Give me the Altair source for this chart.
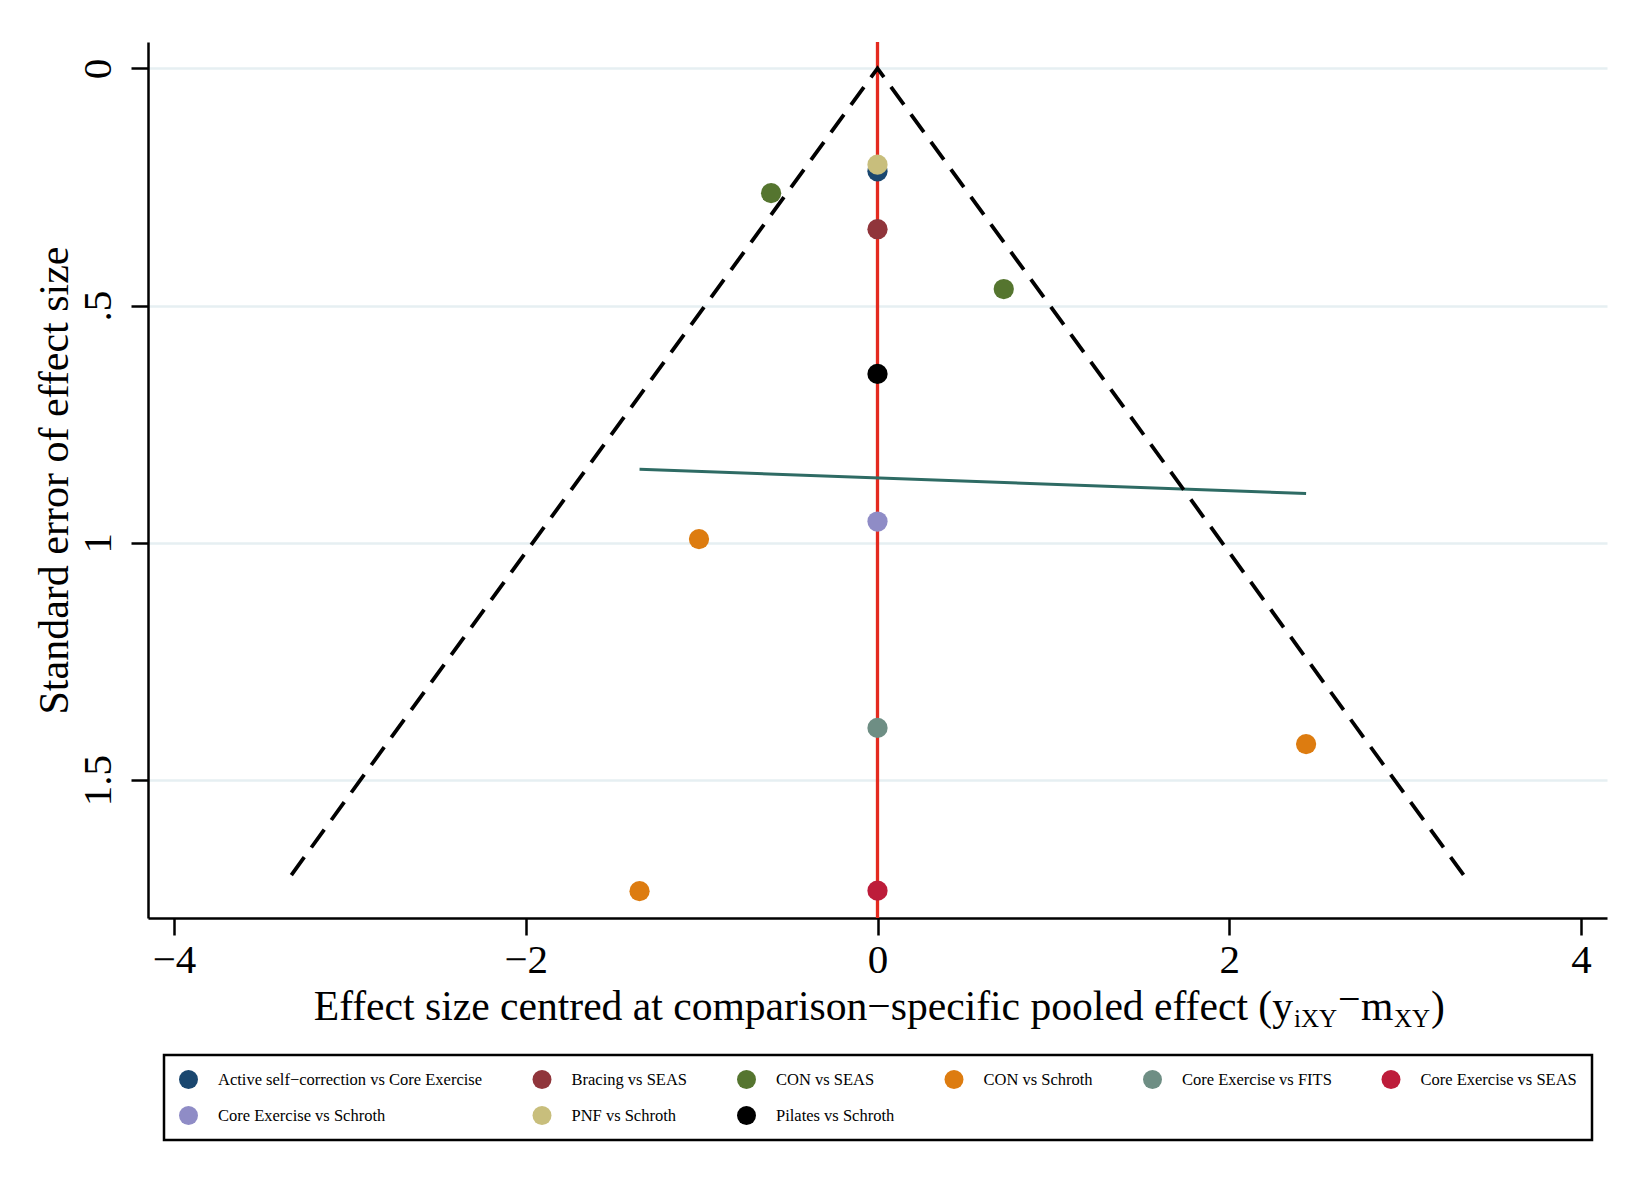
import altair as alt
import pandas as pd

# ---------------- data ----------------
comparisons = [
    "Active self−correction vs Core Exercise",
    "Bracing vs SEAS",
    "CON vs SEAS",
    "CON vs Schroth",
    "Core Exercise vs FITS",
    "Core Exercise vs SEAS",
    "Core Exercise vs Schroth",
    "PNF vs Schroth",
    "Pilates vs Schroth",
]
colors = ["#1a476f", "#90353b", "#55752f", "#dd7c10", "#6e8e84",
          "#bd1c3a", "#8f8cc6", "#c8be7c", "#000000"]

point_comp = [
    "Active self−correction vs Core Exercise",
    "PNF vs Schroth",
    "CON vs SEAS",
    "Bracing vs SEAS",
    "CON vs SEAS",
    "Pilates vs Schroth",
    "Core Exercise vs Schroth",
    "CON vs Schroth",
    "Core Exercise vs FITS",
    "CON vs Schroth",
    "CON vs Schroth",
    "Core Exercise vs SEAS",
]
point_x = [0.0, 0.0, -0.605, 0.0, 0.718, 0.0, 0.0, -1.015, 0.0, 2.437, -1.353, 0.0]
point_se = [0.217, 0.203, 0.263, 0.339, 0.465, 0.644, 0.955, 0.992, 1.390, 1.424, 1.734, 1.733]

funnel_x = [-3.333, 0.0, 3.333]
funnel_se = [1.70, 0.0, 1.70]
funnel_order = [0, 1, 2]

reg_x = [-1.353, 2.437]
reg_se = [0.845, 0.896]

x_ticks = [-4, -2, 0, 2, 4]
y_ticks = [0, 0.5, 1, 1.5]
x_domain = [-4.148, 4.148]
y_domain = [-0.0556, 1.7906]

W, H = 1459, 876
FONT = "Liberation Serif"

points = pd.DataFrame({"comp": point_comp, "x": point_x, "se": point_se})
funnel = pd.DataFrame({"x": funnel_x, "se": funnel_se, "o": funnel_order})
reg = pd.DataFrame({"x": reg_x, "se": reg_se})
zero = pd.DataFrame({"x": [0.0]})
one = pd.DataFrame({"k": [0]})

xscale = alt.Scale(domain=x_domain, nice=False, zero=False)
yscale = alt.Scale(domain=y_domain, nice=False, zero=False, reverse=True)

xaxis = alt.Axis(values=x_ticks, grid=False, title=None,
                 labelExpr="datum.value < 0 ? '\u2212' + (-datum.value) : '' + datum.value",
                 labelPadding=5, tickSize=17)
yaxis = alt.Axis(values=y_ticks, grid=True, gridColor="#e6eff2", gridWidth=2.5,
                 labelExpr="datum.value == 0.5 ? '.5' : '' + datum.value",
                 labelAngle=270, labelAlign="center", labelBaseline="alphabetic",
                 labelPadding=21, tickSize=17,
                 title="Standard error of effect size", titleAngle=270, titleFontSize=42,
                 titleX=-81, titleY=H / 2, titleAlign="center", titleBaseline="alphabetic")

base_x = alt.X("x:Q", scale=xscale, axis=xaxis)
base_y = alt.Y("se:Q", scale=yscale, axis=yaxis)

redline = alt.Chart(zero).mark_rule(color="#e42a1f", strokeWidth=3.3).encode(
    x=alt.X("x:Q", scale=xscale),
    y=alt.value(0), y2=alt.value(H),
)

regline = alt.Chart(reg).mark_line(color="#2e6b64", strokeWidth=3).encode(
    x=alt.X("x:Q", scale=xscale),
    y=alt.Y("se:Q", scale=yscale),
)

funnel_line = alt.Chart(funnel).mark_line(color="black", strokeWidth=3.8,
                                          strokeDash=[22, 12]).encode(
    x=base_x, y=base_y, order="o:O",
)

pts = alt.Chart(points).mark_circle(size=410, opacity=1).encode(
    x=alt.X("x:Q", scale=xscale),
    y=alt.Y("se:Q", scale=yscale),
    color=alt.Color(
        "comp:N",
        scale=alt.Scale(domain=comparisons, range=colors),
        legend=alt.Legend(
            orient="none", legendX=16, legendY=1013, direction="horizontal",
            columns=6, title=None, symbolType="circle", symbolSize=360,
            symbolStrokeWidth=0, symbolOpacity=1,
            labelFont=FONT, labelFontSize=16.5, labelColor="black",
            labelOffset=20, columnPadding=49.5, rowPadding=17, padding=15,
            strokeColor="black", fillColor="white",
            labelLimit=0, values=comparisons,
        ),
    ),
)


def txt(s, x, y, size, align="left"):
    return alt.Chart(one).mark_text(text=s, font=FONT, fontSize=size, align=align,
                                    baseline="alphabetic", color="black").encode(
        x=alt.value(x), y=alt.value(y))


title_layers = [
    txt("Effect size centred at comparison\u2212specific pooled effect (y", 1145, 978, 41.6, "right"),
    txt("iXY", 1146, 985, 25),
    txt("\u2212", 1190, 970, 40),
    txt("m", 1213, 978, 41.6),
    txt("XY", 1246, 985, 25),
    txt(")", 1283, 978, 41.6),
]

chart = alt.layer(redline, regline, funnel_line, pts, *title_layers).properties(
    width=W, height=H,
    autosize=alt.AutoSizeParams(type="none"),
    padding={"left": 140, "top": 34, "right": 35, "bottom": 274},
    background="white",
).configure_view(stroke=None).configure_axis(
    domainColor="black", domainWidth=2.5, tickColor="black", tickWidth=2.5,
    labelFont=FONT, labelFontSize=41, labelColor="black",
    titleFont=FONT, titleFontSize=41, titleFontWeight="normal", titleColor="black",
).configure_legend(strokeWidth=2.5)

chart.save("out.html", embed_options={"renderer": "svg", "actions": False})
